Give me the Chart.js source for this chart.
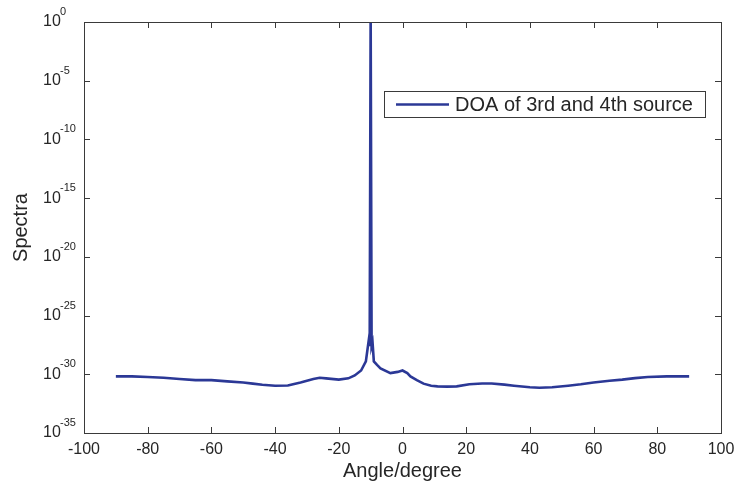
<!DOCTYPE html>
<html>
<head>
<meta charset="utf-8">
<script src="https://cdn.jsdelivr.net/npm/chart.js@4/dist/chart.umd.min.js"></script>
<style>
html,body{margin:0;padding:0;background:#fff;}
#wrap{width:736px;height:491px;position:relative;}
</style>
</head>
<body>
<div id="wrap"><canvas id="c" width="736" height="491"></canvas></div>
<script>
// ---- data ----
const seriesLabel = 'DOA of 3rd and 4th source';
const angles = [-90,-85,-80,-75,-70,-65,-60,-55,-50,-47,-44,-40,-36,-32,-28,-26,-24,-20,-17,-15,-13,-11.5,-10.6,-10.3,-10,-9.7,-9.4,-9,-8,-6.9,-3.8,-1.5,0,1.5,2.5,4.5,6.6,9,11,14,17,21,25,28,32,35,40,43,47,52,56,60,65,69,73,77,83,90];
const spectra = [6.6e-31,6.6e-31,5.8e-31,5.0e-31,4.0e-31,3.2e-31,3.2e-31,2.5e-31,2.0e-31,1.6e-31,1.3e-31,1.07e-31,1.1e-31,2.0e-31,4.0e-31,5.1e-31,4.5e-31,3.5e-31,4.5e-31,7.9e-31,2.1e-30,1.26e-29,7.9e-28,2.5e-28,10,2.5e-28,5.0e-28,1.26e-29,6.3e-30,3.2e-30,1.26e-30,1.6e-30,2.1e-30,1.26e-30,6.6e-31,3.2e-31,1.6e-31,1.07e-31,9.3e-32,8.9e-32,9.3e-32,1.4e-31,1.66e-31,1.66e-31,1.32e-31,1.07e-31,7.9e-32,7.2e-32,7.9e-32,1.07e-31,1.4e-31,2.0e-31,2.8e-31,3.5e-31,4.7e-31,5.8e-31,6.6e-31,6.6e-31];
const xTicks = [-100,-80,-60,-40,-20,0,20,40,60,80,100];
const yTickExps = ['0','-5','-10','-15','-20','-25','-30','-35'];
const yTicks = [1e0,1e-5,1e-10,1e-15,1e-20,1e-25,1e-30,1e-35];

const LINE = '#2b3896';
const AXIS = '#3a3a3a';
const TXT = '#262626';
const FONT = "'Liberation Sans', Arial, sans-serif";

const framePlugin = {
  id:'frame',
  afterDraw(chart){
    const {ctx, chartArea:a, scales:{x,y}} = chart;
    ctx.save();
    ctx.strokeStyle = AXIS; ctx.lineWidth = 1;
    ctx.strokeRect(a.left+0.5, a.top+0.5, a.right-a.left, a.bottom-a.top);
    ctx.beginPath();
    const L = 6;
    xTicks.forEach(v=>{
      const px = Math.round(x.getPixelForValue(v))+0.5;
      ctx.moveTo(px,a.bottom); ctx.lineTo(px,a.bottom-L);
      ctx.moveTo(px,a.top); ctx.lineTo(px,a.top+L);
    });
    yTicks.forEach(v=>{
      const py = Math.round(y.getPixelForValue(v))+0.5;
      ctx.moveTo(a.left,py); ctx.lineTo(a.left+L,py);
      ctx.moveTo(a.right,py); ctx.lineTo(a.right-L,py);
    });
    ctx.stroke();
    // y tick labels: base 10 with superscript exponent
    ctx.fillStyle = TXT; ctx.textAlign='left'; ctx.textBaseline='middle';
    yTicks.forEach((v,i)=>{
      const py = y.getPixelForValue(v);
      ctx.font = "16px "+FONT;
      ctx.fillText('10', 43, py);
      ctx.font = "11px "+FONT;
      ctx.fillText(yTickExps[i], 60, py-10);
    });
    // legend box
    const bx=384.5, by=91.5, bw=321, bh=26;
    ctx.fillStyle='#fff'; ctx.fillRect(bx,by,bw,bh);
    ctx.strokeStyle=AXIS; ctx.lineWidth=1; ctx.strokeRect(bx,by,bw,bh);
    ctx.strokeStyle=LINE; ctx.lineWidth=2.5;
    ctx.beginPath(); ctx.moveTo(396,by+bh/2); ctx.lineTo(449,by+bh/2); ctx.stroke();
    ctx.fillStyle=TXT; ctx.font="20px "+FONT; ctx.textBaseline='middle';
    ctx.fillText(chart.data.datasets[0].label, 455, by+bh/2+1);
    ctx.restore();
  }
};

new Chart(document.getElementById('c'), {
  type:'line',
  data:{
    datasets:[{
      label: seriesLabel,
      data: angles.map((a,i)=>({x:a, y:spectra[i]})),
      borderColor: LINE, borderWidth: 2.6, pointRadius: 0, tension: 0, fill:false
    }]
  },
  options:{
    responsive:false, animation:false,
    layout:{padding:{top:22,right:15,left:0,bottom:0}},
    plugins:{legend:{display:false}, tooltip:{enabled:false}},
    scales:{
      x:{
        type:'linear', min:-100, max:100,
        afterBuildTicks(s){ s.ticks = xTicks.map(v=>({value:v})); },
        afterFit(s){ s.height = 58; s.paddingRight = 0; s.paddingLeft = 0; },
        grid:{display:false, drawTicks:false}, border:{display:false},
        ticks:{color:TXT, font:{family:FONT,size:16}, padding:7, maxRotation:0, autoSkip:false},
        title:{display:true, text:'Angle/degree', color:TXT, font:{family:FONT,size:20}, padding:{top:2,bottom:8}}
      },
      y:{
        type:'logarithmic', min:1e-35, max:1,
        afterBuildTicks(s){ s.ticks = yTicks.map(v=>({value:v})); },
        afterFit(s){ s.width = 84; s.paddingTop = 0; s.paddingBottom = 0; },
        grid:{display:false, drawTicks:false}, border:{display:false},
        ticks:{display:false},
        title:{display:true, text:'Spectra', color:TXT, font:{family:FONT,size:20}, padding:{top:9,bottom:0}}
      }
    }
  },
  plugins:[framePlugin]
});
</script>
</body>
</html>
